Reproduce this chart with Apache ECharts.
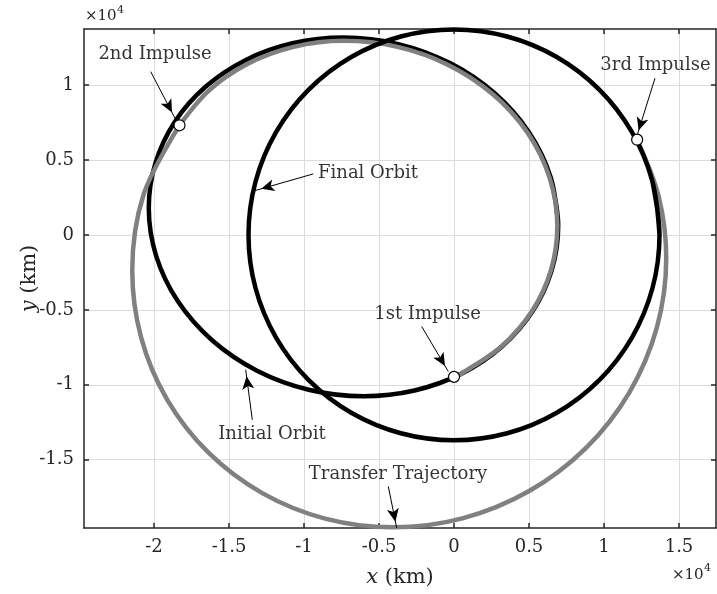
<!DOCTYPE html>
<html>
<head>
<meta charset="utf-8">
<script src="https://cdn.jsdelivr.net/npm/echarts@6/dist/echarts.min.js"></script>
<style>
html, body { margin: 0; padding: 0; background: #fff; }
#chart { width: 717px; height: 594px; }
</style>
</head>
<body>
<div id="chart"></div>
<script>
// all coordinates in km
var xRange = [-24667, 17467];
var yRange = [-19553, 13733];
var xTicks = [-20000, -15000, -10000, -5000, 0, 5000, 10000, 15000];
var yTicks = [-15000, -10000, -5000, 0, 5000, 10000];

// initial orbit (closed ellipse, last points repeat the start)
var initialOrbit = [
	[6948, 611], [6453, 3819], [5007, 6835], [2711, 9445], [-267, 11458], [-3711, 12727],
	[-7371, 13161], [-10769, 12778], [-13906, 11656], [-16583, 9864], [-18630, 7518], [-19911, 4767],
	[-20348, 1789], [-19853, -1419], [-18407, -4435], [-16111, -7045], [-13133, -9058], [-9689, -10327],
	[-6029, -10761], [-2631, -10378], [506, -9256], [3183, -7464], [5230, -5118], [6511, -2367],
	[6948, 611], [6453, 3819]
];
// transfer trajectory, 1st impulse -> 2nd impulse
var transferLeg1 = [
	[0, -9470], [500, -9248], [3160, -7444], [5195, -5099], [6463, -2354], [6888, 614],
	[6375, 3803], [4917, 6792], [2613, 9359], [-352, 11322], [-3759, 12543], [-7359, 12941],
	[-10686, 12542], [-13741, 11417], [-16327, 9640], [-18300, 7310]
];
// transfer trajectory, 2nd impulse -> 3rd impulse
var transferLeg2 = [
	[-18300, 7310], [-20688, 2712], [-21450, -2381], [-20860, -6840], [-19134, -10973],
	[-16382, -14514], [-12784, -17226], [-8591, -18925], [-4065, -19505], [622, -18890],
	[5011, -17086], [8789, -14223], [11696, -10499], [13526, -6176], [14150, -1559],
	[13656, 2529], [12210, 6350]
];
// final orbit (circle)
var finalOrbit = [
	[13700, 0], [13233, 3546], [11864, 6850], [9687, 9687], [6850, 11864], [3546, 13233],
	[0, 13700], [-3546, 13233], [-6850, 11864], [-9687, 9687], [-11864, 6850], [-13233, 3546],
	[-13700, 0], [-13233, -3546], [-11864, -6850], [-9687, -9687], [-6850, -11864], [-3546, -13233],
	[0, -13700], [3546, -13233], [6850, -11864], [9687, -9687], [11864, -6850], [13233, -3546],
	[13700, 0], [13233, 3546]
];
var impulses = [[0, -9470], [-18300, 7310], [12210, 6350]];

// annotations
var noteText = ['2nd Impulse', '3rd Impulse', 'Final Orbit', '1st Impulse', 'Initial Orbit', 'Transfer Trajectory'];
var notePos = [[-19933, 12067], [13433, 11333], [-5733, 4113], [-1767, -5287], [-12133, -13287], [-3733, -15953]];
var arrowFrom = [[-20220, 10887], [13400, 10447], [-9380, 4067], [-2153, -6113], [-13447, -12333], [-4380, -16780]];
var arrowTo = [[-18600, 7780], [12180, 6553], [-13267, 2953], [-380, -9113], [-13887, -9000], [-3820, -19553]];

var FONT = '"DejaVu Serif", serif';
var AXIS_COLOR = '#262626';

function tickFmt(v) {
	return String(Math.round(v / 1000) / 10);
}

function makeAxis(ticks, range, pos, main) {
	return {
		type: 'value',
		position: pos,
		min: range[0],
		max: range[1],
		axisLine: { show: true, onZero: false, lineStyle: { color: AXIS_COLOR, width: 1.5 } },
		axisTick: { show: true, inside: true, length: 5, customValues: ticks, lineStyle: { color: AXIS_COLOR, width: 1.5 } },
		axisLabel: { show: main, customValues: ticks, formatter: tickFmt, margin: 10, fontFamily: FONT, fontSize: 18, color: AXIS_COLOR },
		splitLine: { show: main, lineStyle: { color: '#dcdcdc', width: 1 } }
	};
}

function orbitLine(name, data, color) {
	return {
		name: name,
		type: 'line',
		data: data,
		smooth: 0.33,
		symbol: 'none',
		showSymbol: false,
		clip: false,
		lineStyle: { color: color, width: 4.5, cap: 'round', join: 'round' },
		z: 3
	};
}

var nameStyle = {
	fontFamily: FONT, fontSize: 21, color: AXIS_COLOR,
	rich: { i: { fontFamily: FONT, fontSize: 21, fontStyle: 'italic', color: AXIS_COLOR } }
};

var xBottom = makeAxis(xTicks, xRange, 'bottom', true);
xBottom.name = '{i|x} (km)';
xBottom.nameLocation = 'middle';
xBottom.nameGap = 39;
xBottom.nameMoveOverlap = false;
xBottom.nameTextStyle = nameStyle;

var yLeft = makeAxis(yTicks, yRange, 'left', true);
yLeft.name = '{i|y} (km)';
yLeft.nameLocation = 'middle';
yLeft.nameGap = 44;
yLeft.nameMoveOverlap = false;
yLeft.nameTextStyle = nameStyle;

var arrowLines = noteText.map(function(t, i) {
	return [{ coord: arrowFrom[i] }, { coord: arrowTo[i] }];
});

var option = {
	animation: false,
	backgroundColor: '#fff',
	grid: { left: 84, right: 1, top: 29, bottom: 66, containLabel: false, outerBoundsMode: 'none' },
	xAxis: [xBottom, makeAxis(xTicks, xRange, 'top', false)],
	yAxis: [yLeft, makeAxis(yTicks, yRange, 'right', false)],
	graphic: [
		{ type: 'text', x: 85, y: 16, style: { text: '\u00d710', font: '15px ' + FONT, fill: AXIS_COLOR, align: 'left', verticalAlign: 'middle' } },
		{ type: 'text', x: 117, y: 10, style: { text: '4', font: '11px ' + FONT, fill: AXIS_COLOR, align: 'left', verticalAlign: 'middle' } },
		{ type: 'text', x: 672, y: 575, style: { text: '\u00d710', font: '15px ' + FONT, fill: AXIS_COLOR, align: 'left', verticalAlign: 'middle' } },
		{ type: 'text', x: 704, y: 568, style: { text: '4', font: '11px ' + FONT, fill: AXIS_COLOR, align: 'left', verticalAlign: 'middle' } }
	],
	series: [
		orbitLine('Initial Orbit', initialOrbit, '#000'),
		orbitLine('Transfer Leg 1', transferLeg1, '#808080'),
		orbitLine('Transfer Leg 2', transferLeg2, '#808080'),
		orbitLine('Final Orbit', finalOrbit, '#000'),
		{
			name: 'Impulses',
			type: 'scatter',
			data: impulses,
			symbol: 'circle',
			symbolSize: 11,
			itemStyle: { color: '#fff', opacity: 1, borderColor: '#000', borderWidth: 1.2 },
			z: 5
		},
		{
			name: 'Notes',
			type: 'scatter',
			data: notePos.map(function(p, i) {
				return { name: noteText[i], value: p };
			}),
			symbolSize: 0,
			label: {
				show: true,
				position: 'inside',
				formatter: function(p) { return p.name; },
				fontFamily: FONT,
				fontSize: 18,
				color: '#000'
			},
			markLine: {
				silent: true,
				animation: false,
				symbol: ['none', 'arrow'],
				symbolSize: [9, 13],
				symbolOffset: [[0, 0], [0, 6.5]],
				label: { show: false },
				lineStyle: { color: '#000', width: 1, type: 'solid' },
				emphasis: { disabled: true },
				data: arrowLines
			},
			z: 6
		}
	]
};

var chart = echarts.init(document.getElementById('chart'));
chart.setOption(option);
</script>
</body>
</html>
